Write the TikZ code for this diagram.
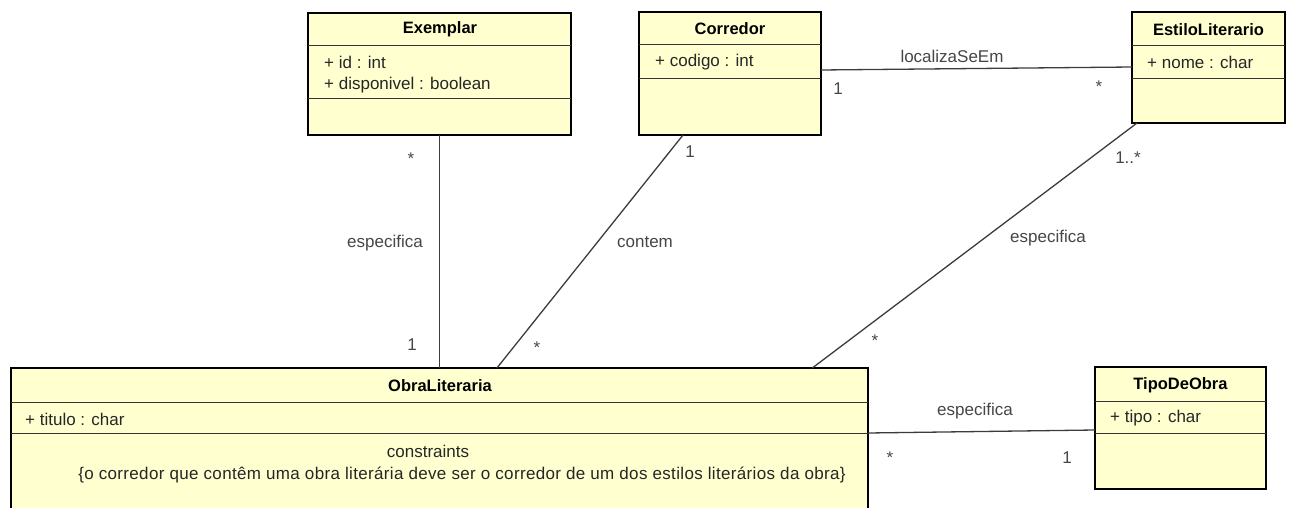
\documentclass[tikz,border=0pt]{standalone}
\usepackage{fontspec}
\setmainfont{Liberation Sans}
\usetikzlibrary{calc}
\definecolor{umlfill}{RGB}{255,255,208}
\definecolor{linec}{RGB}{60,60,60}
\definecolor{labc}{RGB}{70,70,70}
\begin{document}
\begin{tikzpicture}[x=1pt,y=-1pt,
  cls/.style={draw=black, line width=1.8pt, fill=umlfill, anchor=north west, inner sep=0pt, outer sep=0pt},
  ctitle/.style={font=\fontsize{16.5}{19}\selectfont\bfseries, inner sep=0pt},
  attr/.style={font=\fontsize{17}{20}\selectfont, anchor=west, inner sep=0pt, text=black!85},
  sepl/.style={draw=black!80, line width=0.9pt},
  assoc/.style={draw=linec, line width=1.3pt},
  lab/.style={font=\fontsize{17}{20}\selectfont, text=labc, inner sep=0pt}]
\useasboundingbox (0,0) rectangle (1291,508);

% Exemplar
\node[cls, minimum width=263pt, minimum height=122pt] (exemplar) at (308,13) {};
\node[ctitle] (exT) at (440,29) {Exemplar};
\draw[sepl] (308,45) -- (571,45);
\draw[sepl] (308,98) -- (571,98);
\node[attr] (exA1) at (324,62) {+ id : int};
\node[attr] (exA2) at (324,85) {+ disponivel : boolean};

% Corredor
\node[cls, minimum width=182pt, minimum height=123pt] (corredor) at (639,12) {};
\node[ctitle] (coT) at (730,29) {Corredor};
\draw[sepl] (639,44) -- (821,44);
\draw[sepl] (639,78) -- (821,78);
\node[attr] (coA1) at (655,62) {+ codigo : int};

% EstiloLiterario
\node[cls, minimum width=153pt, minimum height=111pt] (estilo) at (1132,12) {};
\node[ctitle] (esT) at (1208.5,30) {EstiloLiterario};
\draw[sepl] (1132,45) -- (1285,45);
\draw[sepl] (1132,78) -- (1285,78);
\node[attr] (esA1) at (1147,62) {+ nome : char};

% ObraLiteraria
\node[cls, minimum width=857pt, minimum height=145pt] (obra) at (11,368) {};
\node[ctitle] (obT) at (440,386) {ObraLiteraria};
\draw[sepl] (11,402) -- (868,402);
\draw[sepl] (11,433) -- (868,433);
\node[attr] (obA1) at (25,419) {+ titulo : char};
\node[lab, text=black!85] (obC1) at (428,451) {constraints};
\node[lab, text=black!85] (obC2) at (462,475) {\addfontfeature{LetterSpace=2}\{o corredor que contêm uma obra literária deve ser o corredor de um dos estilos literários da obra\}};

% TipoDeObra
\node[cls, minimum width=171pt, minimum height=122pt] (tipo) at (1095,367) {};
\node[ctitle] (tiT) at (1180.5,385) {TipoDeObra};
\draw[sepl] (1095,401) -- (1266,401);
\draw[sepl] (1095,433) -- (1266,433);
\node[attr] (tiA1) at (1110,418) {+ tipo : char};

% Connectors
\coordinate (exS) at ($(exemplar.south west)!0.5!(exemplar.south east)$);
\draw[assoc] (exS) -- (exS |- obra.north);
\draw[assoc] ($(corredor.south west)!0.242!(corredor.south east)$) -- ($(obra.north west)!0.567!(obra.north east)$);
\draw[assoc] (corredor.east |- 0,70) -- (estilo.west |- 0,67);
\draw[assoc] ($(estilo.south west)!0.033!(estilo.south east)$) -- ($(obra.north west)!0.935!(obra.north east)$);
\draw[assoc] (obra.east |- 0,433) -- (tipo.west |- 0,430);

% Labels
\node[lab] (l1) at (411,159) {*};
\node[lab] (l2) at (385,243) {especifica};
\node[lab] (l3) at (412,345) {1};
\node[lab] (l4) at (690,152) {1};
\node[lab] (l5) at (645,242) {contem};
\node[lab] (l6) at (537,348) {*};
\node[lab] (l7) at (952,56) {localizaSeEm};
\node[lab] (l8) at (838,89) {1};
\node[lab] (l9) at (1099,87) {*};
\node[lab] (l10) at (1128,158) {1..*};
\node[lab] (l11) at (1048,238) {especifica};
\node[lab] (l12) at (875,341) {*};
\node[lab] (l13) at (975,411) {especifica};
\node[lab] (l14) at (890,458) {*};
\node[lab] (l15) at (1067,458) {1};
\end{tikzpicture}
\end{document}
